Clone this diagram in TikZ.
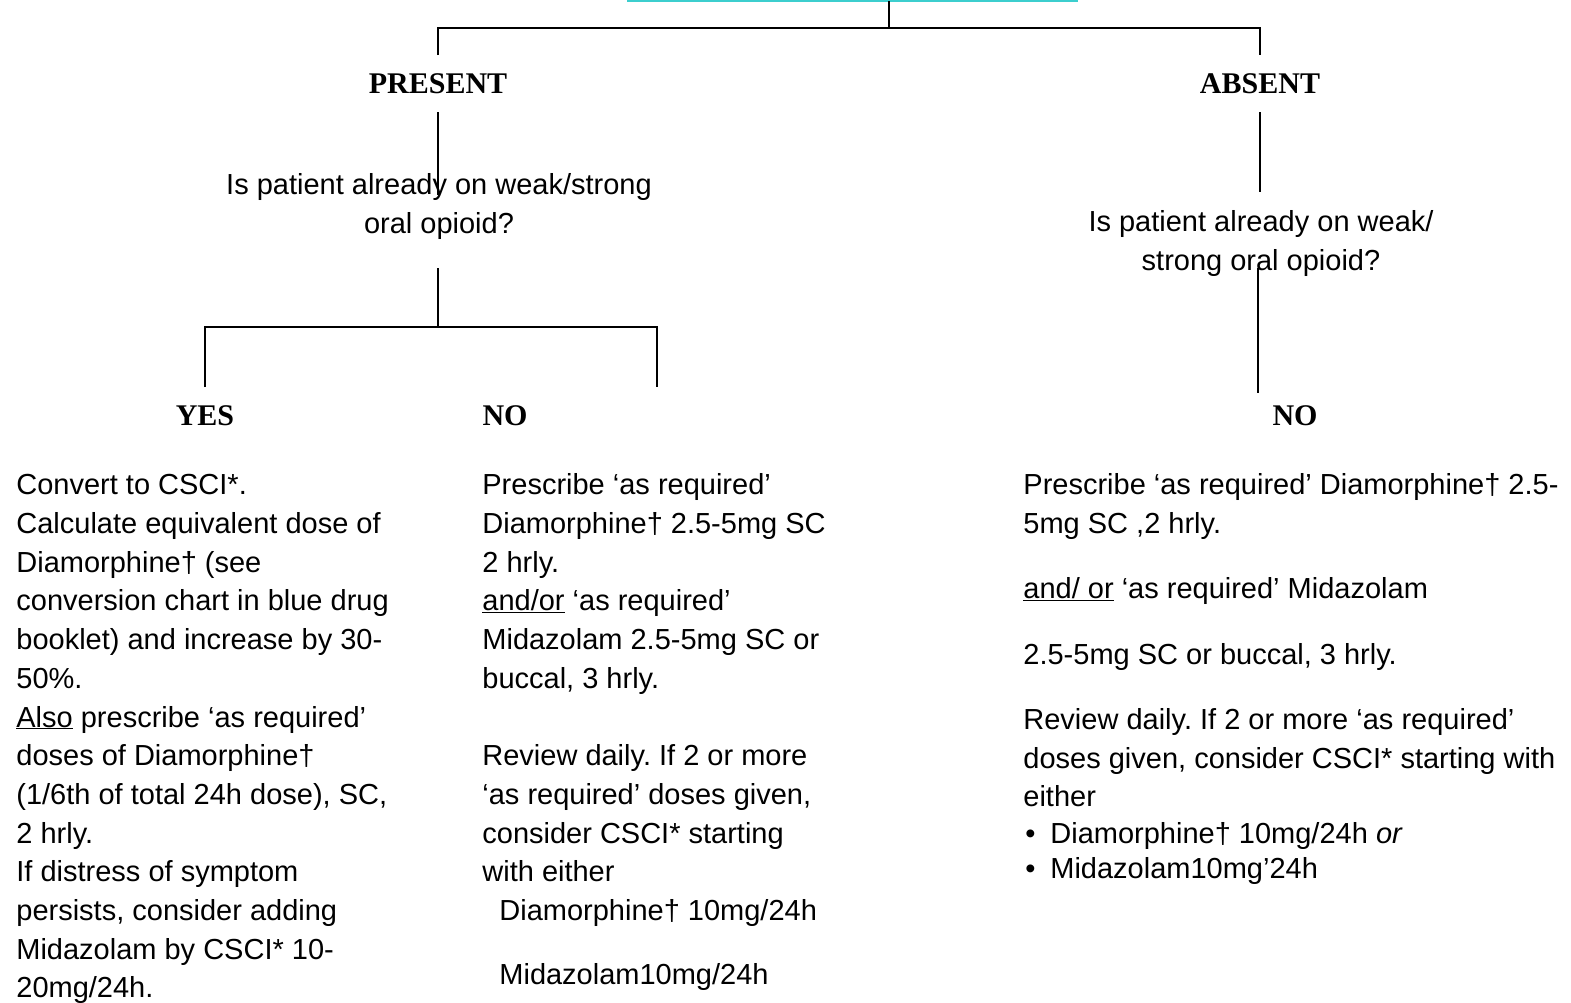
\documentclass[tikz,border=0pt]{standalone}
\usepackage{fontspec}
\setmainfont{Liberation Sans}
\newfontfamily\lserif{Liberation Serif}
\definecolor{tealline}{RGB}{60,206,206}
\frenchspacing
\begin{document}
\begin{tikzpicture}[x=1pt,y=-1pt, line width=2.8pt,
  lbl/.style={font=\lserif\bfseries\fontsize{30}{36}\selectfont, inner sep=0pt},
  body/.style={font=\frenchspacing\fontsize{29}{38.7}\selectfont, align=left, anchor=north west, inner sep=0pt},
  ques/.style={font=\fontsize{29}{38.7}\selectfont, align=center, anchor=north, inner sep=0pt},
  conn/.style={draw=black, line width=2.8pt}]
\useasboundingbox (0,0) rectangle (1571,1002);

% top (cut-off) box edge
\coordinate (tl) at (627,1);
\coordinate (tr) at (1078,1);
\draw[tealline, line width=2.6pt] (tl) -- (tr);

% labels
\node[lbl] (present) at (438,84) {PRESENT};
\node[lbl] (absent) at (1260,84) {ABSENT};
\node[lbl] (yes) at (205,416) {YES};
\node[lbl] (noL) at (505,416) {NO};
\node[lbl] (noR) at (1295,416) {NO};

\node[ques] (qL) at (439,166) {\strut Is patient already on weak/strong\\oral opioid?};
\node[ques] (qR) at (1261,203) {\strut Is patient already on weak/\\strong oral opioid?};

% junction coordinates
\coordinate (c0) at (889,1);
\coordinate (j0) at (889,28);
\coordinate (jL) at (438,28);
\coordinate (jR) at (1260,28);
\coordinate (pL) at (438,55);
\coordinate (pR) at (1260,55);
\coordinate (aL1) at (438,112);
\coordinate (aL2) at (438,195);
\coordinate (aR1) at (1260,112);
\coordinate (aR2) at (1260,192);
\coordinate (bL1) at (438,268);
\coordinate (bL2) at (438,327);
\coordinate (yL) at (205,327);
\coordinate (nL) at (657,327);
\coordinate (yL2) at (205,387);
\coordinate (nL2) at (657,387);
\coordinate (bR1) at (1258,268);
\coordinate (bR2) at (1258,393);

\path[conn] (c0) -- (j0);
\path[conn] (pL) -- (jL) -- (jR) -- (pR);
\path[conn] (aL1) -- (aL2);
\path[conn] (aR1) -- (aR2);
\path[conn] (bL1) -- (bL2);
\path[conn] (yL2) -- (yL) -- (nL) -- (nL2);
\path[conn] (bR1) -- (bR2);

% text blocks
\node[body] (tYes) at (15,466.3) {\strut Convert to CSCI*.\\
Calculate equivalent dose of\\
Diamorphine† (see\\
conversion chart in blue drug\\
booklet) and increase by 30-\\
50\%.\\
\underline{Also} prescribe ‘as required’\\
doses of Diamorphine†\\
(1/6th of total 24h dose), SC,\\
2 hrly.\\
If distress of symptom\\
persists, consider adding\\
Midazolam by CSCI* 10-\\
20mg/24h.};

\node[body] (tNoL) at (481,466.3) {\strut Prescribe ‘as required’\\
Diamorphine† 2.5-5mg SC\\
2 hrly.\\
\underline{and/or} ‘as required’\\
Midazolam 2.5-5mg SC or\\
buccal, 3 hrly.\\
\mbox{}\\
Review daily. If 2 or more\\
‘as required’ doses given,\\
consider CSCI* starting\\
with either\\
\hspace*{17pt}Diamorphine† 10mg/24h\\[25.3pt]
\hspace*{17pt}Midazolam10mg/24h};

\node[body] (tNoR) at (1022,466.3) {\strut Prescribe ‘as required’ Diamorphine† 2.5-\\
5mg SC ,2 hrly.\\[26.3pt]
\underline{and/ or} ‘as required’ Midazolam\\[27.3pt]
2.5-5mg SC or buccal, 3 hrly.\\[26.3pt]
Review daily. If 2 or more ‘as required’\\
doses given, consider CSCI* starting with\\
either\\[-2pt]
\makebox[27pt][l]{\hspace*{2pt}•}Diamorphine† 10mg/24h \textit{or}\\[-4pt]
\makebox[27pt][l]{\hspace*{2pt}•}Midazolam10mg’24h};
\end{tikzpicture}
\end{document}
